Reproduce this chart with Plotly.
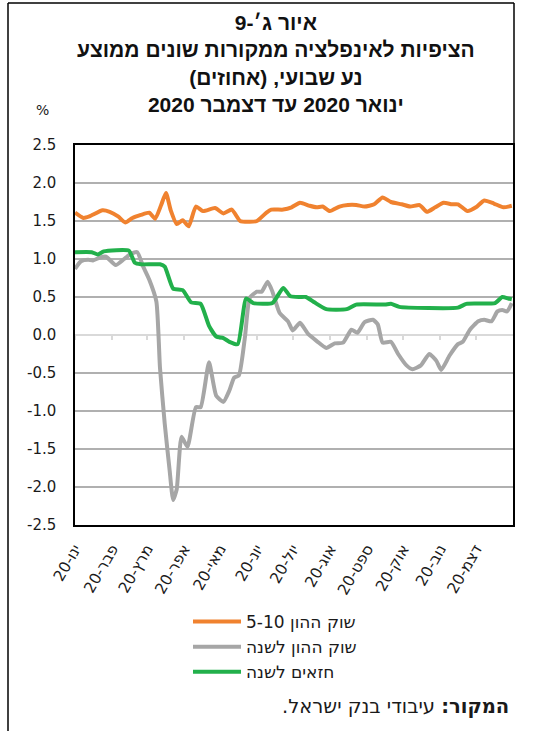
import plotly.graph_objects as go

# ---------------- data ----------------
month_ticks = ["2020-01-01", "2020-02-01", "2020-03-01", "2020-04-01", "2020-05-01", "2020-06-01",
               "2020-07-01", "2020-08-01", "2020-09-01", "2020-10-01", "2020-11-01", "2020-12-01"]
month_labels = ["ינו-20", "פבר-20", "מרץ-20", "אפר-20", "מאי-20", "יונ-20",
                "יול-20", "אוג-20", "ספט-20", "אוק-20", "נוב-20", "דצמ-20"]

y_ticks = [2.5, 2.0, 1.5, 1.0, 0.5, 0.0, -0.5, -1.0, -1.5, -2.0, -2.5]
y_labels = ["2.5", "2.0", "1.5", "1.0", "0.5", "0.0", "-0.5", "-1.0", "-1.5", "-2.0", "-2.5"]

series_names = ["שוק ההון 5-10", "שוק ההון לשנה", "חזאים לשנה"]

orange_dates = ["2020-01-01", "2020-01-08", "2020-01-13", "2020-01-24", "2020-01-30", "2020-02-06",
                "2020-02-12", "2020-02-18", "2020-02-25", "2020-03-03", "2020-03-08", "2020-03-13",
                "2020-03-17", "2020-03-21", "2020-03-26", "2020-03-31", "2020-04-05", "2020-04-11",
                "2020-04-17", "2020-04-27", "2020-05-04", "2020-05-11", "2020-05-18", "2020-05-26",
                "2020-06-01", "2020-06-09", "2020-06-13", "2020-06-23", "2020-06-30", "2020-07-07",
                "2020-07-15", "2020-07-21", "2020-07-26", "2020-08-01", "2020-08-09", "2020-08-16",
                "2020-08-23", "2020-08-30", "2020-09-07", "2020-09-14", "2020-09-21", "2020-09-30",
                "2020-10-07", "2020-10-15", "2020-10-21", "2020-10-28", "2020-11-04", "2020-11-11",
                "2020-11-16", "2020-11-24", "2020-12-01", "2020-12-08", "2020-12-16", "2020-12-24",
                "2020-12-31"]
orange_vals = [1.61, 1.54, 1.56, 1.64, 1.62, 1.56, 1.48, 1.54, 1.58, 1.61, 1.53, 1.71,
               1.87, 1.64, 1.46, 1.51, 1.43, 1.69, 1.63, 1.67, 1.60, 1.65, 1.50, 1.49,
               1.50, 1.61, 1.65, 1.65, 1.68, 1.74, 1.70, 1.68, 1.69, 1.63, 1.69, 1.71,
               1.71, 1.69, 1.72, 1.81, 1.75, 1.72, 1.69, 1.71, 1.62, 1.68, 1.74, 1.72,
               1.72, 1.63, 1.68, 1.77, 1.73, 1.68, 1.70]

gray_dates = ["2020-01-01", "2020-01-06", "2020-01-12", "2020-01-16", "2020-01-22", "2020-01-27",
              "2020-02-04", "2020-02-11", "2020-02-17", "2020-02-22", "2020-02-27",
              "2020-03-03", "2020-03-09", "2020-03-12", "2020-03-16", "2020-03-20", "2020-03-23",
              "2020-03-26", "2020-03-30", "2020-04-04", "2020-04-11", "2020-04-15", "2020-04-22",
              "2020-04-28", "2020-05-04", "2020-05-09", "2020-05-13", "2020-05-17", "2020-05-22",
              "2020-05-26", "2020-06-01", "2020-06-05", "2020-06-10", "2020-06-14", "2020-06-20",
              "2020-06-27", "2020-07-01", "2020-07-07", "2020-07-14", "2020-07-21", "2020-07-29",
              "2020-08-05", "2020-08-12", "2020-08-19", "2020-08-24", "2020-08-30", "2020-09-06",
              "2020-09-10", "2020-09-14", "2020-09-21", "2020-09-27", "2020-10-04", "2020-10-09",
              "2020-10-16", "2020-10-23", "2020-10-29", "2020-11-02", "2020-11-09", "2020-11-16",
              "2020-11-20", "2020-11-26", "2020-12-03", "2020-12-08", "2020-12-14", "2020-12-19",
              "2020-12-23", "2020-12-27", "2020-12-31"]
gray_vals = [0.87, 0.97, 0.99, 0.98, 1.02, 1.03,
             0.92, 1.00, 1.07, 1.09, 0.90,
             0.73, 0.44, -0.43, -1.17, -1.77, -2.17,
             -2.03, -1.34, -1.47, -0.95, -0.95, -0.36,
             -0.80, -0.88, -0.73, -0.56, -0.53, -0.03,
             0.49, 0.57, 0.57, 0.70, 0.57, 0.29,
             0.18, 0.06, 0.16, 0.01, -0.08, -0.17,
             -0.11, -0.10, 0.07, 0.03, 0.17, 0.20,
             0.14, -0.10, -0.09, -0.25, -0.40, -0.45,
             -0.40, -0.25, -0.34, -0.46, -0.27, -0.12,
             -0.09, 0.07, 0.18, 0.20, 0.18, 0.31,
             0.33, 0.31, 0.42]

green_dates = ["2020-01-01", "2020-01-15", "2020-01-20", "2020-01-25", "2020-02-15", "2020-02-20",
               "2020-02-25", "2020-03-12", "2020-03-16", "2020-03-23", "2020-03-31", "2020-04-07",
               "2020-04-15", "2020-04-22", "2020-04-28", "2020-05-04", "2020-05-09", "2020-05-16",
               "2020-05-23", "2020-05-29", "2020-06-14", "2020-06-23", "2020-06-29", "2020-07-07",
               "2020-07-12", "2020-07-19", "2020-07-29", "2020-08-15", "2020-08-23", "2020-09-16",
               "2020-09-21", "2020-09-28", "2020-11-16", "2020-11-23", "2020-12-17", "2020-12-23",
               "2020-12-28", "2020-12-31"]
green_vals = [1.09, 1.09, 1.06, 1.10, 1.11, 0.95,
              0.93, 0.93, 0.90, 0.61, 0.59, 0.43,
              0.41, 0.12, -0.02, -0.04, -0.09, -0.12,
              0.48, 0.42, 0.42, 0.62, 0.51, 0.50,
              0.50, 0.43, 0.34, 0.34, 0.40, 0.40,
              0.41, 0.37, 0.36, 0.41, 0.42, 0.50,
              0.48, 0.47]

colors = ["#F0822F", "#A6A6A6", "#22B04B"]

RLM = "\u200f"
title_text = ("<b>איור ג׳-9<br>הציפיות לאינפלציה ממקורות שונים ממוצע<br>"
              "נע שבועי, (אחוזים)" + RLM + "<br>ינואר 2020 עד דצמבר 2020</b>")
source_text = RLM + "<b>המקור:</b> עיבודי בנק ישראל." + RLM

# ---------------- figure ----------------
W, H = 533, 731
L, R, T, B = 75, 20, 145, 206
pw, ph = W - L - R, H - T - B


def px_x(p):
    return (p - L) / pw


def px_y(p):
    return (H - B - p) / ph


fig = go.Figure()
# orange on the labelled (bottom) axis, the others on the zero-line axis overlay
fig.add_trace(go.Scatter(x=orange_dates, y=orange_vals, name=series_names[0], mode="lines",
                         xaxis="x", yaxis="y",
                         line=dict(color=colors[0], width=4, shape="spline", smoothing=0.5)))
fig.add_trace(go.Scatter(x=gray_dates, y=gray_vals, name=series_names[1], mode="lines",
                         xaxis="x2", yaxis="y",
                         line=dict(color=colors[1], width=4, shape="spline", smoothing=0.5)))
fig.add_trace(go.Scatter(x=green_dates, y=green_vals, name=series_names[2], mode="lines",
                         xaxis="x2", yaxis="y",
                         line=dict(color=colors[2], width=4, shape="spline", smoothing=0.5)))

xrange = ["2020-01-01", "2021-01-01"]
fig.update_layout(
    width=W, height=H,
    margin=dict(l=L, r=R, t=T, b=B),
    paper_bgcolor="white", plot_bgcolor="white",
    font=dict(family="DejaVu Sans", color="black"),
    showlegend=True,
    legend=dict(x=px_x(188), y=px_y(604), xanchor="left", yanchor="top",
                font=dict(family="DejaVu Sans", size=17, color="#1a1a1a"),
                itemwidth=48, bgcolor="rgba(0,0,0,0)", tracegroupgap=0),
    xaxis=dict(range=xrange, type="date", tickvals=month_ticks, ticktext=month_labels,
               tickangle=-60, tickfont=dict(family="DejaVu Sans", size=15.5, color="#1a1a1a"),
               ticklabelstandoff=7,
               showgrid=False, zeroline=False, showline=True, linecolor="black", linewidth=1.5,
               mirror=True, ticks="", anchor="y"),
    xaxis2=dict(range=xrange, type="date", matches="x", overlaying="x", anchor="free", position=0.5,
                tickvals=month_ticks, showticklabels=False, showgrid=False, zeroline=False,
                showline=True, linecolor="#D9D9D9", linewidth=2, ticks="outside", ticklen=4,
                tickwidth=2, tickcolor="#D9D9D9", layer="below traces"),
    yaxis=dict(range=[-2.5, 2.5], tickvals=y_ticks, ticktext=y_labels,
               tickfont=dict(family="DejaVu Sans", size=15, color="#1a1a1a"),
               showgrid=True, gridcolor="#B0B0B0", gridwidth=1.5, zeroline=False,
               showline=True, linecolor="black", linewidth=1.5, mirror=True,
               ticks="outside", ticklen=14, tickcolor="rgba(0,0,0,0)"),
    annotations=[
        dict(text=title_text, x=px_x(276), y=px_y(9), xref="paper", yref="paper",
             xanchor="center", yanchor="top", showarrow=False, align="center",
             font=dict(family="Liberation Sans", size=21, color="#111111")),
        dict(text="%", x=px_x(42), y=px_y(110), xref="paper", yref="paper",
             xanchor="center", yanchor="middle", showarrow=False,
             font=dict(family="DejaVu Sans", size=14, color="#1a1a1a")),
        dict(text=source_text, x=px_x(511), y=px_y(706), xref="paper", yref="paper",
             xanchor="right", yanchor="middle", showarrow=False,
             font=dict(family="DejaVu Sans", size=19.5, color="#1a1a1a")),
    ],
    shapes=[
        dict(type="line", xref="paper", yref="paper", x0=px_x(8), x1=px_x(8), y0=px_y(3), y1=px_y(731),
             line=dict(color="black", width=1.5)),
        dict(type="line", xref="paper", yref="paper", x0=px_x(8), x1=px_x(514), y0=px_y(3), y1=px_y(3),
             line=dict(color="black", width=1.5)),
        dict(type="line", xref="paper", yref="paper", x0=px_x(514), x1=px_x(514), y0=px_y(3), y1=1,
             line=dict(color="black", width=1.5)),
    ],
)

fig.write_html("out.html", config={"displayModeBar": False},
               post_script="document.body.style.margin='0px';")
